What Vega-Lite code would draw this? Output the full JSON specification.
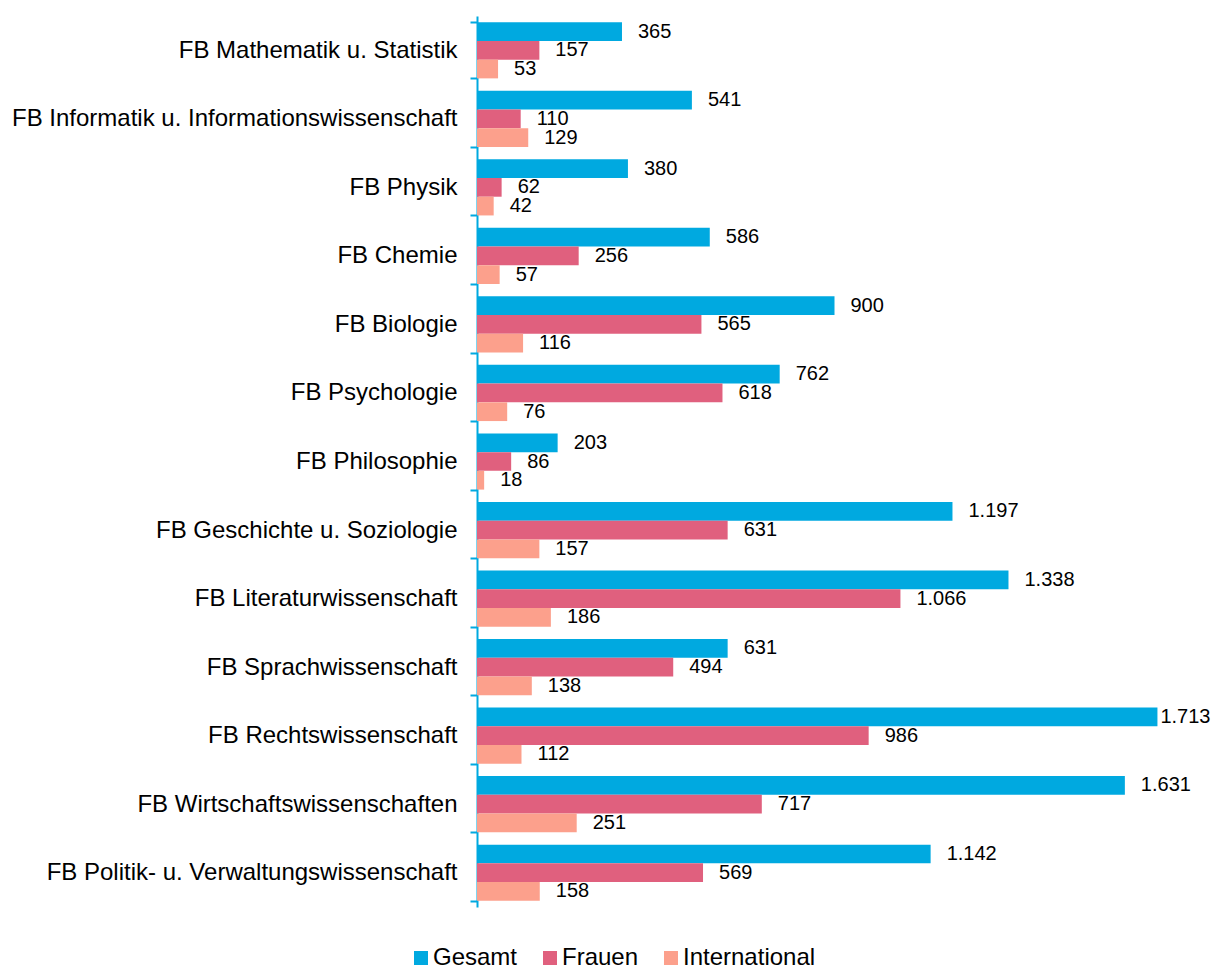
{
  "$schema": "https://vega.github.io/schema/vega-lite/v6.json",
  "autosize": "none",
  "padding": {"left": 477, "top": 16, "right": 24, "bottom": 72},
  "width": 715,
  "height": 891,
  "background": "white",
  "config": {
    "locale": {"number": {"decimal": ",", "thousands": ".", "grouping": [3], "currency": ["", " €"]}},
    "font": "Liberation Sans",
    "view": {"stroke": null}
  },
  "data": {
    "values": [
      {"fb": "FB Mathematik u. Statistik", "series": "Gesamt", "value": 365},
      {"fb": "FB Mathematik u. Statistik", "series": "Frauen", "value": 157},
      {"fb": "FB Mathematik u. Statistik", "series": "International", "value": 53},
      {"fb": "FB Informatik u. Informationswissenschaft", "series": "Gesamt", "value": 541},
      {"fb": "FB Informatik u. Informationswissenschaft", "series": "Frauen", "value": 110},
      {"fb": "FB Informatik u. Informationswissenschaft", "series": "International", "value": 129},
      {"fb": "FB Physik", "series": "Gesamt", "value": 380},
      {"fb": "FB Physik", "series": "Frauen", "value": 62},
      {"fb": "FB Physik", "series": "International", "value": 42},
      {"fb": "FB Chemie", "series": "Gesamt", "value": 586},
      {"fb": "FB Chemie", "series": "Frauen", "value": 256},
      {"fb": "FB Chemie", "series": "International", "value": 57},
      {"fb": "FB Biologie", "series": "Gesamt", "value": 900},
      {"fb": "FB Biologie", "series": "Frauen", "value": 565},
      {"fb": "FB Biologie", "series": "International", "value": 116},
      {"fb": "FB Psychologie", "series": "Gesamt", "value": 762},
      {"fb": "FB Psychologie", "series": "Frauen", "value": 618},
      {"fb": "FB Psychologie", "series": "International", "value": 76},
      {"fb": "FB Philosophie", "series": "Gesamt", "value": 203},
      {"fb": "FB Philosophie", "series": "Frauen", "value": 86},
      {"fb": "FB Philosophie", "series": "International", "value": 18},
      {"fb": "FB Geschichte u. Soziologie", "series": "Gesamt", "value": 1197},
      {"fb": "FB Geschichte u. Soziologie", "series": "Frauen", "value": 631},
      {"fb": "FB Geschichte u. Soziologie", "series": "International", "value": 157},
      {"fb": "FB Literaturwissenschaft", "series": "Gesamt", "value": 1338},
      {"fb": "FB Literaturwissenschaft", "series": "Frauen", "value": 1066},
      {"fb": "FB Literaturwissenschaft", "series": "International", "value": 186},
      {"fb": "FB Sprachwissenschaft", "series": "Gesamt", "value": 631},
      {"fb": "FB Sprachwissenschaft", "series": "Frauen", "value": 494},
      {"fb": "FB Sprachwissenschaft", "series": "International", "value": 138},
      {"fb": "FB Rechtswissenschaft", "series": "Gesamt", "value": 1713},
      {"fb": "FB Rechtswissenschaft", "series": "Frauen", "value": 986},
      {"fb": "FB Rechtswissenschaft", "series": "International", "value": 112},
      {"fb": "FB Wirtschaftswissenschaften", "series": "Gesamt", "value": 1631},
      {"fb": "FB Wirtschaftswissenschaften", "series": "Frauen", "value": 717},
      {"fb": "FB Wirtschaftswissenschaften", "series": "International", "value": 251},
      {"fb": "FB Politik- u. Verwaltungswissenschaft", "series": "Gesamt", "value": 1142},
      {"fb": "FB Politik- u. Verwaltungswissenschaft", "series": "Frauen", "value": 569},
      {"fb": "FB Politik- u. Verwaltungswissenschaft", "series": "International", "value": 158}
    ]
  },
  "encoding": {
    "y": {
      "field": "fb", "type": "nominal", "sort": null, "title": null,
      "scale": {"paddingInner": 0.18, "paddingOuter": 0.09},
      "axis": {
        "domainColor": "#00a9e0", "domainWidth": 2, "tickColor": "#00a9e0", "tickWidth": 2,
        "tickSize": 7, "tickBand": "extent", "labelFontSize": 24, "labelColor": "#000000",
        "labelPadding": 13, "labelLimit": 600
      }
    },
    "yOffset": {"field": "series", "type": "nominal", "sort": ["Gesamt", "Frauen", "International"], "scale": {"paddingInner": 0, "paddingOuter": 0}},
    "x": {"field": "value", "type": "quantitative", "scale": {"domain": [0, 1800], "nice": false}, "axis": null}
  },
  "layer": [
    {
      "mark": {"type": "bar"},
      "encoding": {
        "color": {
          "field": "series", "type": "nominal", "title": null,
          "scale": {"domain": ["Gesamt", "Frauen", "International"], "range": ["#00a9e0", "#e0607e", "#fca08c"]},
          "legend": {
            "orient": "none", "legendX": -68, "legendY": 930, "direction": "horizontal",
            "symbolType": "square", "symbolSize": 196, "symbolStrokeWidth": 0, "labelFontSize": 24,
            "labelColor": "#000000", "columnPadding": 20, "labelOffset": 0
          }
        }
      }
    },
    {
      "transform": [{"filter": "datum.value < 1700"}],
      "mark": {"type": "text", "align": "left", "baseline": "middle", "dx": 16, "fontSize": 20, "color": "#000000"},
      "encoding": {"text": {"field": "value", "type": "quantitative", "format": ",.0f"}}
    },
    {
      "transform": [{"filter": "datum.value >= 1700"}],
      "mark": {"type": "text", "align": "left", "baseline": "middle", "dx": 3, "fontSize": 20, "color": "#000000"},
      "encoding": {"text": {"field": "value", "type": "quantitative", "format": ",.0f"}}
    }
  ]
}
